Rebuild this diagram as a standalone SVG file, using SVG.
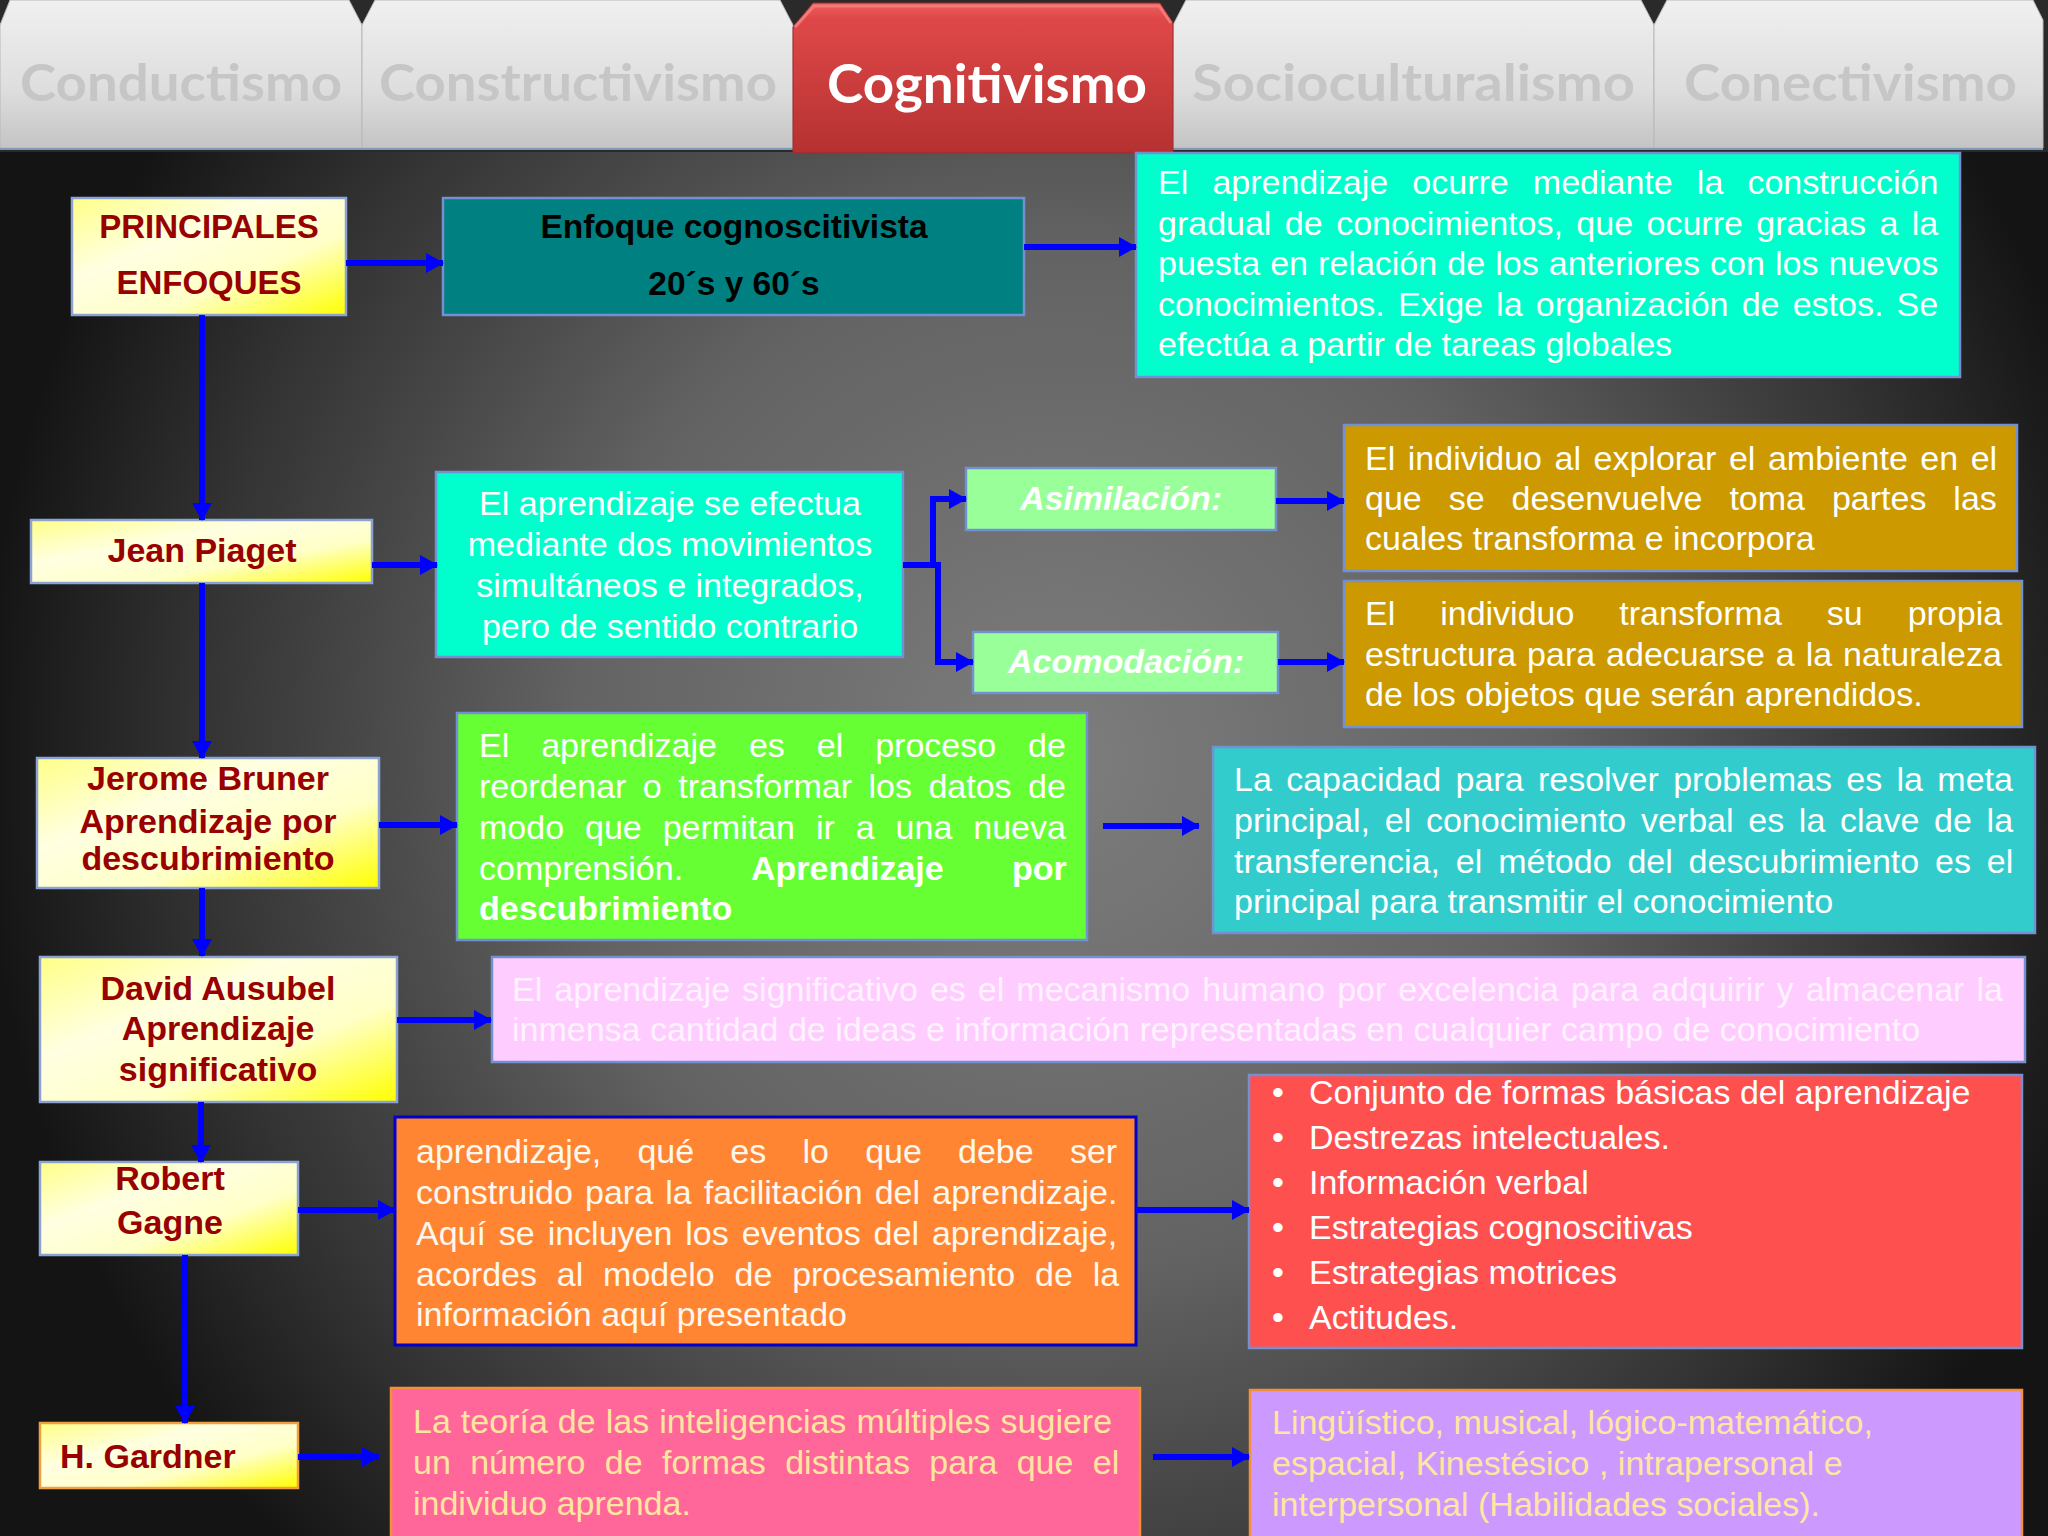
<svg xmlns="http://www.w3.org/2000/svg" width="2048" height="1536" viewBox="0 0 2048 1536">
<defs>
<radialGradient id="bg" gradientUnits="userSpaceOnUse" cx="1060" cy="760" r="1080" gradientTransform="translate(1060 760) scale(1 1.05) translate(-1060 -760)">
<stop offset="0" stop-color="#7d7d7d"/>
<stop offset="0.45" stop-color="#636363"/>
<stop offset="0.8" stop-color="#333333"/>
<stop offset="1" stop-color="#141414"/>
</radialGradient>
<linearGradient id="tabg" x1="0" y1="0" x2="0" y2="1">
<stop offset="0" stop-color="#f0f0f0"/>
<stop offset="0.6" stop-color="#dedede"/>
<stop offset="1" stop-color="#c4c4c4"/>
</linearGradient>
<linearGradient id="redg" x1="0" y1="0" x2="0" y2="1">
<stop offset="0" stop-color="#ee5e5e"/>
<stop offset="0.1" stop-color="#e04848"/>
<stop offset="1" stop-color="#b53131"/>
</linearGradient>
<linearGradient id="yel" x1="0" y1="0" x2="1" y2="1">
<stop offset="0" stop-color="#ffff88"/>
<stop offset="0.35" stop-color="#ffffe2"/>
<stop offset="0.65" stop-color="#ffffc8"/>
<stop offset="1" stop-color="#ffff00"/>
</linearGradient>
<marker id="ah" viewBox="0 0 18 20" markerWidth="18" markerHeight="20" refX="17" refY="10" orient="auto" markerUnits="userSpaceOnUse">
<path d="M0,0 L18,10 L0,20 z" fill="#0000ff"/>
</marker>
<style>
.tab{fill:url(#tabg);stroke:#b8b8b8;stroke-width:1}
.tabt{font-family:Lato,"Open Sans","Liberation Sans",sans-serif;font-weight:bold;font-size:52px;fill:#c6c6c6}
.box{stroke:#7391d0;stroke-width:2.5}
.ybox{fill:url(#yel);stroke:#8aa2d4;stroke-width:2.5}
.lbl{font-family:"Liberation Sans",Arial,sans-serif;font-weight:bold;font-size:34px;fill:#990000;text-anchor:middle}
.t{font-family:"Liberation Sans",Arial,sans-serif;font-size:34px;fill:#ffffff}
.c{text-anchor:middle}
.b{font-weight:bold}
.bi{font-weight:bold;font-style:italic}
.cream{fill:#ffe6a0}
.conn path{fill:none;stroke:#0000ff;stroke-width:6}
</style>
</defs>

<rect x="0" y="0" width="2048" height="1536" fill="url(#bg)"/>
<rect x="0" y="0" width="2048" height="152" fill="#2a2a2a"/>

<g id="tabs">
<g id="tab-conductismo">
<polygon class="tab" points="0,25 10,0 349,0 362,25 362,148 0,148"/>
<text class="tabt" x="20" y="101" textLength="322" lengthAdjust="spacingAndGlyphs">Conductismo</text>
</g>
<g id="tab-constructivismo">
<polygon class="tab" points="362,25 375,0 780,0 793,25 793,148 362,148"/>
<text class="tabt" x="379" y="101" textLength="398" lengthAdjust="spacingAndGlyphs">Constructivismo</text>
</g>
<g id="tab-socioculturalismo">
<polygon class="tab" points="1173,25 1186,0 1641,0 1654,25 1654,148 1173,148"/>
<text class="tabt" x="1192" y="101" textLength="443" lengthAdjust="spacingAndGlyphs">Socioculturalismo</text>
</g>
<g id="tab-conectivismo">
<polygon class="tab" points="1654,25 1667,0 2033,0 2043,20 2043,148 1654,148"/>
<text class="tabt" x="1684" y="101" textLength="333" lengthAdjust="spacingAndGlyphs">Conectivismo</text>
</g>
<line x1="0" y1="149" x2="2043" y2="149" stroke="#7f98b8" stroke-width="2"/>
<g id="tab-cognitivismo">
<polygon points="793,27 813,3 1160,3 1173,23 1173,153 793,153" fill="url(#redg)" stroke="#9e2a2a" stroke-width="1"/>
<polyline points="795,27 814,6 1159,6 1171,23" fill="none" stroke="#f07a7a" stroke-width="3"/>
<text class="tabt" x="827" y="103" textLength="320" lengthAdjust="spacingAndGlyphs" style="fill:#ffffff;font-size:54px">Cognitivismo</text>
</g>
</g>

<g id="n-principales">
<rect class="ybox" x="72" y="198" width="274" height="117"/>
<text class="lbl" x="209" y="238" style="font-size:33px">PRINCIPALES</text>
<text class="lbl" x="209" y="294" style="font-size:33px">ENFOQUES</text>
</g>

<g id="n-enfoque">
<rect class="box" x="443" y="198" width="581" height="117" fill="#008080"/>
<text class="lbl" x="734" y="238" style="fill:#000000;font-size:33.5px">Enfoque cognoscitivista</text>
<text class="lbl" x="734" y="295" style="fill:#000000;font-size:33.5px">20´s y 60´s</text>
</g>

<g id="n-construccion">
<rect class="box" x="1136" y="153" width="824" height="224" fill="#00ffcc"/>
<text class="t" x="1158" y="194" word-spacing="14.7">El aprendizaje ocurre mediante la construcción</text>
<text class="t" x="1158" y="234.5" word-spacing="4">gradual de conocimientos, que ocurre gracias a la</text>
<text class="t" x="1158" y="275" word-spacing="0.65">puesta en relación de los anteriores con los nuevos</text>
<text class="t" x="1158" y="315.5" word-spacing="3.7">conocimientos. Exige la organización de estos. Se</text>
<text class="t" x="1158" y="356">efectúa a partir de tareas globales</text>
</g>

<g id="n-piaget">
<rect class="ybox" x="31" y="520" width="341" height="63"/>
<text class="lbl" x="202" y="562">Jean Piaget</text>
</g>

<g id="n-movimientos">
<rect class="box" x="436" y="472" width="467" height="185" fill="#00ffcc"/>
<text class="t c" x="670" y="515">El aprendizaje se efectua</text>
<text class="t c" x="670" y="556">mediante dos movimientos</text>
<text class="t c" x="670" y="597">simultáneos e integrados,</text>
<text class="t c" x="670" y="638">pero de sentido contrario</text>
</g>

<g id="n-asimilacion">
<rect class="box" x="966" y="468" width="310" height="62" fill="#99ff99"/>
<text class="t c bi" x="1121" y="510">Asimilación:</text>
</g>

<g id="n-acomodacion">
<rect class="box" x="973" y="632" width="305" height="61" fill="#99ff99"/>
<text class="t c bi" x="1126" y="673">Acomodación:</text>
</g>

<g id="n-asim-desc">
<rect class="box" x="1344" y="425" width="673" height="146" fill="#cc9900"/>
<text class="t" x="1365" y="470" word-spacing="3.1">El individuo al explorar el ambiente en el</text>
<text class="t" x="1365" y="510" word-spacing="17.5">que se desenvuelve toma partes las</text>
<text class="t" x="1365" y="550">cuales transforma e incorpora</text>
</g>

<g id="n-acom-desc">
<rect class="box" x="1344" y="581" width="678" height="146" fill="#cc9900"/>
<text class="t" x="1365" y="625" word-spacing="35.5">El individuo transforma su propia</text>
<text class="t" x="1365" y="666" word-spacing="1.5">estructura para adecuarse a la naturaleza</text>
<text class="t" x="1365" y="706">de los objetos que serán aprendidos.</text>
</g>

<g id="n-bruner">
<rect class="ybox" x="37" y="758" width="342" height="130"/>
<text class="lbl" x="208" y="790">Jerome Bruner</text>
<text class="lbl" x="208" y="833">Aprendizaje por</text>
<text class="lbl" x="208" y="870">descubrimiento</text>
</g>

<g id="n-descubrimiento">
<rect class="box" x="457" y="713" width="630" height="227" fill="#66ff33"/>
<text class="t" x="479" y="757" word-spacing="22.5">El aprendizaje es el proceso de</text>
<text class="t" x="479" y="798" word-spacing="7">reordenar o transformar los datos de</text>
<text class="t" x="479" y="839" word-spacing="11.5">modo que permitan ir a una nueva</text>
<text class="t" y="880"><tspan x="479">comprensión.</tspan><tspan class="b" x="751">Aprendizaje</tspan><tspan class="b" x="1012">por</tspan></text>
<text class="t b" x="479" y="920">descubrimiento</text>
</g>

<g id="n-capacidad">
<rect class="box" x="1213" y="747" width="822" height="186" fill="#33cccc"/>
<text class="t" x="1234" y="791" word-spacing="4.9">La capacidad para resolver problemas es la meta</text>
<text class="t" x="1234" y="832" word-spacing="5.25">principal, el conocimiento verbal es la clave de la</text>
<text class="t" x="1234" y="873" word-spacing="6.4">transferencia, el método del descubrimiento es el</text>
<text class="t" x="1234" y="913">principal para transmitir el conocimiento</text>
</g>

<g id="n-ausubel">
<rect class="ybox" x="40" y="957" width="357" height="145"/>
<text class="lbl" x="218" y="1000">David Ausubel</text>
<text class="lbl" x="218" y="1040">Aprendizaje</text>
<text class="lbl" x="218" y="1081">significativo</text>
</g>

<g id="n-significativo">
<rect class="box" x="492" y="957" width="1533" height="105" fill="#ffccff"/>
<text class="t" x="512" y="1001" word-spacing="2.6" style="fill:#fff2ff">El aprendizaje significativo es el mecanismo humano por excelencia para adquirir y almacenar la</text>
<text class="t" x="512" y="1041" style="fill:#fff2ff">inmensa cantidad de ideas e información representadas en cualquier campo de conocimiento</text>
</g>

<g id="n-gagne">
<rect class="ybox" x="40" y="1162" width="258" height="93"/>
<text class="lbl" x="170" y="1190">Robert</text>
<text class="lbl" x="170" y="1234">Gagne</text>
</g>

<g id="n-eventos">
<rect x="395" y="1117" width="741" height="228" fill="#ff8533" stroke="#0000cc" stroke-width="3"/>
<text class="t" x="416" y="1163" word-spacing="26.75" style="fill:#fff8ee">aprendizaje, qué es lo que debe ser</text>
<text class="t" x="416" y="1204" word-spacing="2.7" style="fill:#fff8ee">construido para la facilitación del aprendizaje.</text>
<text class="t" x="416" y="1245" word-spacing="3.45" style="fill:#fff8ee">Aquí se incluyen los eventos del aprendizaje,</text>
<text class="t" x="416" y="1286" word-spacing="10.4" style="fill:#fff8ee">acordes al modelo de procesamiento de la</text>
<text class="t" x="416" y="1326" style="fill:#fff8ee">información aquí presentado</text>
</g>

<g id="n-formas">
<rect class="box" x="1249" y="1075" width="773" height="273" fill="#ff5050"/>
<g class="t">
<text class="t" x="1272" y="1104">•</text><text class="t" x="1309" y="1104">Conjunto de formas básicas del aprendizaje</text>
<text class="t" x="1272" y="1149">•</text><text class="t" x="1309" y="1149">Destrezas intelectuales.</text>
<text class="t" x="1272" y="1194">•</text><text class="t" x="1309" y="1194">Información verbal</text>
<text class="t" x="1272" y="1239">•</text><text class="t" x="1309" y="1239">Estrategias cognoscitivas</text>
<text class="t" x="1272" y="1284">•</text><text class="t" x="1309" y="1284">Estrategias motrices</text>
<text class="t" x="1272" y="1329">•</text><text class="t" x="1309" y="1329">Actitudes.</text>
</g>
</g>

<g id="n-gardner">
<rect x="40" y="1423" width="258" height="65" fill="url(#yel)" stroke="#f0a040" stroke-width="2.5"/>
<text class="lbl" x="60" y="1468" style="text-anchor:start">H. Gardner</text>
</g>

<g id="n-inteligencias">
<rect x="391" y="1388" width="749" height="160" fill="#ff6699" stroke="#f5903a" stroke-width="2.5"/>
<text class="t cream" x="413" y="1433" word-spacing="0.6">La teoría de las inteligencias múltiples sugiere</text>
<text class="t cream" x="413" y="1474" word-spacing="9.9">un número de formas distintas para que el</text>
<text class="t cream" x="413" y="1515">individuo aprenda.</text>
</g>

<g id="n-tipos">
<rect x="1250" y="1390" width="772" height="160" fill="#cc99ff" stroke="#f5903a" stroke-width="2.5"/>
<text class="t cream" x="1272" y="1434">Lingüístico, musical, lógico-matemático,</text>
<text class="t cream" x="1272" y="1475">espacial, Kinestésico , intrapersonal e</text>
<text class="t cream" x="1272" y="1516">interpersonal (Habilidades sociales).</text>
</g>

<g id="connectors" class="conn">
<path d="M346,263 H443" marker-end="url(#ah)"/>
<path d="M1024,247 H1136" marker-end="url(#ah)"/>
<path d="M202,315 V520" marker-end="url(#ah)"/>
<path d="M372,565 H437" marker-end="url(#ah)"/>
<path d="M903,565 H941"/>
<path d="M933,568 V499 H966" marker-end="url(#ah)"/>
<path d="M938,562 V662 H973" marker-end="url(#ah)"/>
<path d="M1276,501 H1344" marker-end="url(#ah)"/>
<path d="M1278,662 H1344" marker-end="url(#ah)"/>
<path d="M202,583 V758" marker-end="url(#ah)"/>
<path d="M379,825 H457" marker-end="url(#ah)"/>
<path d="M1103,826 H1199" marker-end="url(#ah)"/>
<path d="M202,888 V956" marker-end="url(#ah)"/>
<path d="M397,1020 H491" marker-end="url(#ah)"/>
<path d="M201,1102 V1162" marker-end="url(#ah)"/>
<path d="M298,1210 H395" marker-end="url(#ah)"/>
<path d="M1136,1210 H1249" marker-end="url(#ah)"/>
<path d="M185,1255 V1423" marker-end="url(#ah)"/>
<path d="M298,1457 H379" marker-end="url(#ah)"/>
<path d="M1153,1457 H1249" marker-end="url(#ah)"/>
</g>
</svg>
